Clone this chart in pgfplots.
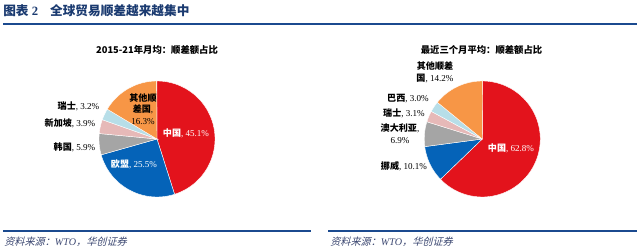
\documentclass[border=0pt]{standalone}
\usepackage{pgfplots}
\pgfplotsset{compat=1.18}
\usepackage{fontspec}
\setmainfont{Liberation Serif}
\newfontfamily\cjk{Noto Sans CJK SC}
\newfontfamily\cjkit[FakeSlant=0.25]{Noto Sans CJK SC}
\definecolor{cRed}{HTML}{E3131C}
\definecolor{cBlue}{HTML}{0563B8}
\definecolor{cGrey}{HTML}{A5A5A5}
\definecolor{cPink}{HTML}{E6B9B8}
\definecolor{cLBlue}{HTML}{B7DEE8}
\definecolor{cOrange}{HTML}{F79646}
\definecolor{cNavy}{HTML}{1B4A8F}
\definecolor{cTitle}{HTML}{1A3A70}
\definecolor{cSrc}{HTML}{3A4670}

\newcommand{\resetpie}{\gdef\piecum{0}}
\newcommand{\slice}[2]{%
  \pgfmathsetmacro\pa{90-3.6*\piecum}%
  \pgfmathsetmacro\pb{90-3.6*(\piecum+#1)}%
  \pgfmathsetmacro\pnew{\piecum+#1}\xdef\piecum{\pnew}%
  \edef\tmp{\noexpand\addplot[fill=#2,draw=white,line width=0.3pt,domain=\pb:\pa,samples=90] ({cos(x)},{sin(x)}) -- (axis cs:0,0) -- cycle;}\tmp}

\pgfplotsset{piestyle/.style={
  width=87pt,height=87pt,scale only axis,
  xmin=-1,xmax=1,ymin=-1,ymax=1,
  hide axis,clip=false,anchor=center}}

\newcommand{\lab}[2]{{\cjk\bfseries #1}, #2}

\begin{document}
\begin{tikzpicture}
% left pie
\begin{axis}[piestyle,at={(117.75pt,-104.25pt)}]
\resetpie
\slice{45.1}{cRed}
\slice{25.5}{cBlue}
\slice{5.9}{cGrey}
\slice{3.9}{cPink}
\slice{3.2}{cLBlue}
\slice{16.3}{cOrange}
\end{axis}
% right pie
\begin{axis}[piestyle,at={(361.7pt,-104.25pt)}]
\resetpie
\slice{62.8}{cRed}
\slice{10.1}{cBlue}
\slice{6.9}{cGrey}
\slice{3.1}{cPink}
\slice{3.0}{cLBlue}
\slice{14.2}{cOrange}
\end{axis}

\begin{scope}[x=0.75pt,y=-0.75pt]
\useasboundingbox (0,0) rectangle (640,252);
% header
\node[anchor=west,text=cTitle,font=\fontsize{9.5pt}{10pt}\selectfont,inner sep=0pt] at (3,11)
  {{\cjk\bfseries 图表}\ \textbf{2}\hspace{9pt}{\cjk\bfseries 全球贸易顺差越来越集中}};
\draw[cNavy,line width=1.4pt] (3,24) -- (637,24);
% footer
\draw[cNavy,line width=1.4pt] (3,231) -- (311,231);
\draw[cNavy,line width=1.4pt] (328,231) -- (637,231);
\node[anchor=west,text=cSrc,font=\fontsize{7.6pt}{8pt}\selectfont,inner sep=0pt] at (4,242)
  {{\cjkit 资料来源：}\textit{WTO}{\cjkit ，华创证券}};
\node[anchor=west,text=cSrc,font=\fontsize{7.6pt}{8pt}\selectfont,inner sep=0pt] at (330,242)
  {{\cjkit 资料来源：}\textit{WTO}{\cjkit ，华创证券}};
% chart titles
\node[font=\fontsize{7pt}{8pt}\selectfont\cjk\bfseries,inner sep=0pt] at (157,50) {2015-21年月均：顺差额占比};
\node[font=\fontsize{7pt}{8pt}\selectfont\cjk\bfseries,inner sep=0pt] at (481.5,50) {最近三个月平均：顺差额占比};
% left labels
\begin{scope}[every node/.style={font=\fontsize{6.8pt}{7.8pt}\selectfont,inner sep=0pt}]
\node[text=white] at (186,133) {\lab{中国}{45.1\%}};
\node[text=white] at (134,164) {\lab{欧盟}{25.5\%}};
\node at (74.5,147.3) {\lab{韩国}{5.9\%}};
\node at (70,123.3) {\lab{新加坡}{3.9\%}};
\node at (78.5,106.7) {\lab{瑞士}{3.2\%}};
\node[align=center] at (143,109) {{\cjk\bfseries 其他顺}\\[1pt]{\cjk\bfseries 差国},\\[1pt]16.3\%};
% right labels
\node[text=white] at (511,148.3) {\lab{中国}{62.8\%}};
\node at (404,166) {\lab{挪威}{10.1\%}};
\node[align=center] at (400,134) {{\cjk\bfseries 澳大利亚},\\[1pt]6.9\%};
\node at (404,113.3) {\lab{瑞士}{3.1\%}};
\node at (408,99) {\lab{巴西}{3.0\%}};
\node[align=center] at (435,72.5) {{\cjk\bfseries 其他顺差}\\[1pt]{\cjk\bfseries 国}, 14.2\%};
\end{scope}
\end{scope}
\end{tikzpicture}
\end{document}
